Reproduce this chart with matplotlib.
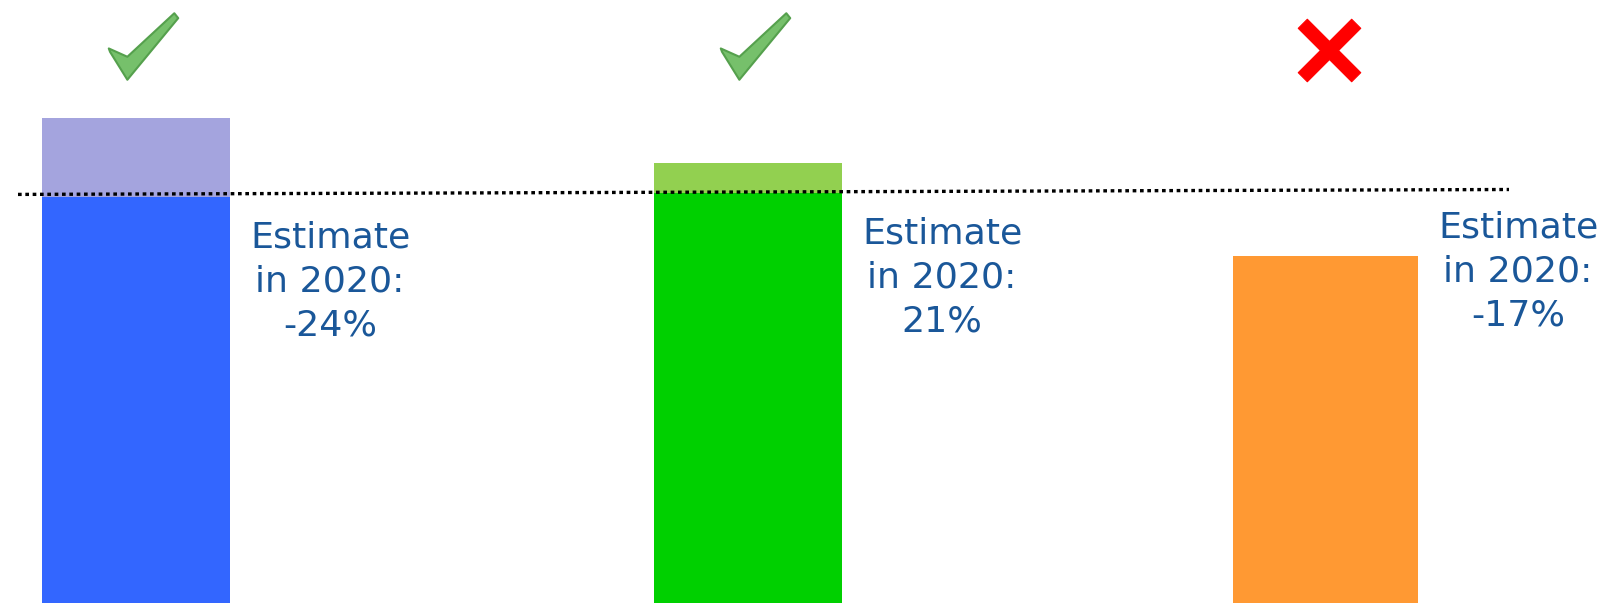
import matplotlib.pyplot as plt
import numpy as np
from matplotlib.path import Path
from matplotlib.transforms import Affine2D

### DATA ###
# Bar values (arbitrary index units, target line ~100)
categories = ["A", "B", "C"]
base_values = [99.3, 100.2, 84.8]      # solid part of each bar
top_values = [118.6, 107.6, 84.8]      # total bar height incl. lighter top
estimates = ["-24%", "21%", "-17%"]
status = ["ok", "ok", "fail"]
target_line = [99.9, 101.1]             # dotted line, left -> right

### STYLE / LAYOUT ###
base_colors = ["#3366FF", "#00D000", "#FF9933"]
top_colors = ["#A4A4DE", "#92D050", "#FF9933"]
text_color = "#1A5799"
bar_x = [136, 748, 1325.5]
bar_w = [188, 188, 185]
PX = 4.09  # pixels per value unit
line_x = [18, 1509]

fig = plt.figure(figsize=(16, 6.03), dpi=100)
ax = fig.add_axes([0, 0, 1, 1])
ax.set_xlim(0, 1600)
ax.set_ylim(0, 603 / PX)
ax.axis("off")

# lighter tops first, then solid base on top of them
ax.bar(bar_x, top_values, width=bar_w, color=top_colors, align="center", zorder=1)
ax.bar(bar_x, base_values, width=bar_w, color=base_colors, align="center", zorder=2)

# dotted reference line
ax.plot(line_x, target_line, color="black", linewidth=2.4,
        linestyle=(0, (1.1, 1.1)), zorder=3)

# text labels to the right of each bar
label_top_px = [221, 217, 211]
for i in range(len(categories)):
    right = bar_x[i] + bar_w[i] / 2
    ax.text(right + 100, (603 - label_top_px[i]) / PX,
            "Estimate\nin 2020:\n" + estimates[i],
            ha="center", va="top", multialignment="center",
            fontsize=26.2, color=text_color, family="DejaVu Sans",
            linespacing=1.36, zorder=4)

# check mark and cross markers
check_verts = [(-35.5, -2), (-34.2, -5.5), (-16.5, -34), (35.5, 29),
               (31.5, 34), (-16.5, -10.5), (-35.5, -2)]
check_path = Path(check_verts, [Path.MOVETO] + [Path.LINETO] * 5 + [Path.CLOSEPOLY])

a = 0.17
plus = np.array([(-a, -1), (a, -1), (a, -a), (1, -a), (1, a), (a, a), (a, 1),
                 (-a, 1), (-a, a), (-1, a), (-1, -a), (-a, -a), (-a, -1)])
cross = Affine2D().rotate_deg(45).transform(plus)
cross_path = Path(cross, [Path.MOVETO] + [Path.LINETO] * 11 + [Path.CLOSEPOLY])

for i, s in enumerate(status):
    if s == "ok":
        ax.plot(bar_x[i] + 7.3, (603 - 46.3) / PX, marker=check_path,
                markersize=50, markerfacecolor="#76C06B",
                markeredgecolor="#55A04D", markeredgewidth=1.5,
                linestyle="none", zorder=5)
    else:
        ax.plot(bar_x[i] + 3, (603 - 50) / PX, marker=cross_path,
                markersize=45, markerfacecolor="#FF0000",
                markeredgecolor="#FF0000", markeredgewidth=0.8,
                linestyle="none", zorder=5)

plt.savefig("out.png", dpi=100)
